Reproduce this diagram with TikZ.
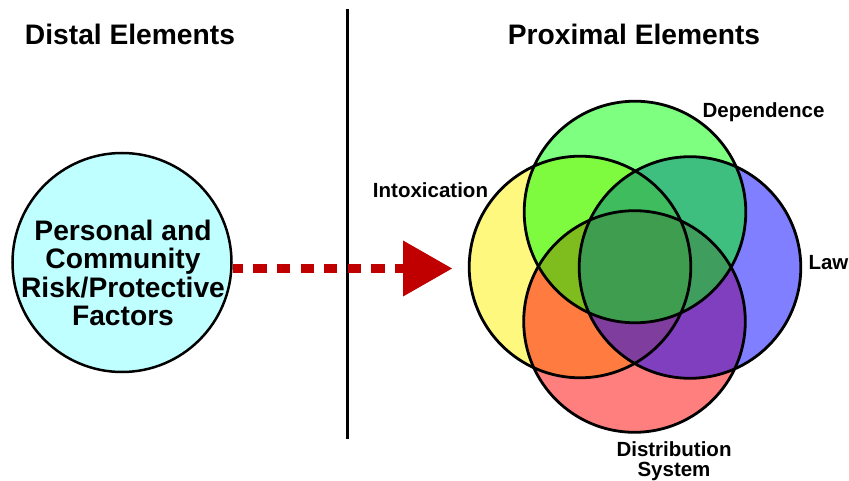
\documentclass[tikz,border=0pt]{standalone}
\usepackage{fontspec}
\setmainfont{Liberation Sans}
\usetikzlibrary{arrows.meta}

\begin{document}
\begin{tikzpicture}[x=1pt,y=-1pt]
  % Styles
  \tikzset{
    title/.style={font=\bfseries\fontsize{28.2}{28.4}\selectfont,anchor=base},
    tag/.style={font=\bfseries\fontsize{20.5}{20}\selectfont,anchor=base,align=center},
    ring/.style={line width=2.8pt},
    flow/.style={line width=9pt,dash pattern=on 13.3pt off 10.3pt,dash phase=3pt}
  }

  % Colors
  \definecolor{riskfill}{RGB}{192,255,255}
  \definecolor{arrowred}{RGB}{192,0,0}

  \useasboundingbox (0,0) rectangle (849,481);

  % Divider
  \draw[line width=3pt] (347,9) -- (347,439);

  % Headings
  \node[title] (distal) at (130,45) {Distal Elements};
  \node[title] (proximal) at (634,45) {Proximal Elements};

  % Distal circle
  \node[circle,draw,line width=2.5pt,fill=riskfill,minimum size=219pt] (risk) at (122,262.5) {};
  \node[font=\bfseries\fontsize{28.2}{28.4}\selectfont,align=center] (risktext) at (123,273)
    {Personal and\\Community\\Risk/Protective\\Factors};

  % Arrow
  \coordinate (tip) at (452,268.5);
  \draw[arrowred,flow,-{Triangle[length=49pt,width=56pt,line width=0pt]}]
    ([yshift=-6pt]risk.east) -- (tip);

  % Proximal circles
  \coordinate (dep) at (635,212);
  \coordinate (intox) at (580,267);
  \coordinate (law) at (690,267.5);
  \coordinate (distr) at (634.5,321.5);

  \foreach \c/\col in {intox/yellow,distr/red,law/blue,dep/green}
    \fill[\col,fill opacity=0.5] (\c) circle[radius=110.8];
  \foreach \c in {intox,distr,law,dep}
    \draw[ring] (\c) circle[radius=110.8];

  % Labels
  \node[tag] (intoxlabel) at (430.5,197.5) {Intoxication};
  \node[tag] (deplabel) at (763.5,117.3) {Dependence};
  \node[tag] (lawlabel) at (828.5,269.5) {Law};
  \node[tag,anchor=center] (distrlabel) at (674,460.7) {Distribution\\System};
\end{tikzpicture}
\end{document}
